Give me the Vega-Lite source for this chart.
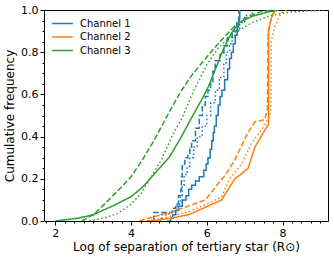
{
  "$schema": "https://vega.github.io/schema/vega-lite/v6.json",
  "width": 284,
  "height": 211,
  "autosize": {"type": "none"},
  "padding": {"left": 44, "top": 10, "right": 6, "bottom": 39},
  "config": {
    "font": "DejaVu Sans",
    "view": {"stroke": "#000000", "strokeWidth": 1},
    "axis": {
      "grid": false,
      "domain": false,
      "tickColor": "#000000",
      "labelColor": "#000000",
      "titleColor": "#000000",
      "labelFontSize": 11,
      "titleFontSize": 12,
      "titleFontWeight": "normal",
      "labelPadding": 2
    },
    "legend": {
      "labelFontSize": 10,
      "labelColor": "#000000"
    }
  },
  "data": {
    "values": [
      {"ch":"Channel 1","st":"solid","i":0,"x":4.95,"y":0},
      {"ch":"Channel 1","st":"solid","i":1,"x":5.05,"y":0.013},
      {"ch":"Channel 1","st":"solid","i":2,"x":5.1,"y":0.03},
      {"ch":"Channel 1","st":"solid","i":3,"x":5.18,"y":0.05},
      {"ch":"Channel 1","st":"solid","i":4,"x":5.25,"y":0.07},
      {"ch":"Channel 1","st":"solid","i":5,"x":5.35,"y":0.1},
      {"ch":"Channel 1","st":"solid","i":6,"x":5.45,"y":0.12},
      {"ch":"Channel 1","st":"solid","i":7,"x":5.52,"y":0.15},
      {"ch":"Channel 1","st":"solid","i":8,"x":5.6,"y":0.17},
      {"ch":"Channel 1","st":"solid","i":9,"x":5.7,"y":0.19},
      {"ch":"Channel 1","st":"solid","i":10,"x":5.8,"y":0.21},
      {"ch":"Channel 1","st":"solid","i":11,"x":5.92,"y":0.24},
      {"ch":"Channel 1","st":"solid","i":12,"x":5.98,"y":0.27},
      {"ch":"Channel 1","st":"solid","i":13,"x":6.03,"y":0.3},
      {"ch":"Channel 1","st":"solid","i":14,"x":6.09,"y":0.34},
      {"ch":"Channel 1","st":"solid","i":15,"x":6.13,"y":0.38},
      {"ch":"Channel 1","st":"solid","i":16,"x":6.17,"y":0.42},
      {"ch":"Channel 1","st":"solid","i":17,"x":6.2,"y":0.45},
      {"ch":"Channel 1","st":"solid","i":18,"x":6.25,"y":0.5},
      {"ch":"Channel 1","st":"solid","i":19,"x":6.3,"y":0.55},
      {"ch":"Channel 1","st":"solid","i":20,"x":6.35,"y":0.59},
      {"ch":"Channel 1","st":"solid","i":21,"x":6.4,"y":0.62},
      {"ch":"Channel 1","st":"solid","i":22,"x":6.47,"y":0.67},
      {"ch":"Channel 1","st":"solid","i":23,"x":6.55,"y":0.72},
      {"ch":"Channel 1","st":"solid","i":24,"x":6.6,"y":0.77},
      {"ch":"Channel 1","st":"solid","i":25,"x":6.65,"y":0.8},
      {"ch":"Channel 1","st":"solid","i":26,"x":6.7,"y":0.84},
      {"ch":"Channel 1","st":"solid","i":27,"x":6.75,"y":0.88},
      {"ch":"Channel 1","st":"solid","i":28,"x":6.8,"y":0.92},
      {"ch":"Channel 1","st":"solid","i":29,"x":6.84,"y":0.96},
      {"ch":"Channel 1","st":"solid","i":30,"x":6.87,"y":1.0},

      {"ch":"Channel 1","st":"dashed","i":0,"x":4.6,"y":0},
      {"ch":"Channel 1","st":"dashed","i":1,"x":4.6,"y":0.04},
      {"ch":"Channel 1","st":"dashed","i":2,"x":5.09,"y":0.06},
      {"ch":"Channel 1","st":"dashed","i":3,"x":5.18,"y":0.08},
      {"ch":"Channel 1","st":"dashed","i":4,"x":5.25,"y":0.12},
      {"ch":"Channel 1","st":"dashed","i":5,"x":5.31,"y":0.15},
      {"ch":"Channel 1","st":"dashed","i":6,"x":5.33,"y":0.21},
      {"ch":"Channel 1","st":"dashed","i":7,"x":5.35,"y":0.27},
      {"ch":"Channel 1","st":"dashed","i":8,"x":5.42,"y":0.3},
      {"ch":"Channel 1","st":"dashed","i":9,"x":5.5,"y":0.32},
      {"ch":"Channel 1","st":"dashed","i":10,"x":5.55,"y":0.35},
      {"ch":"Channel 1","st":"dashed","i":11,"x":5.6,"y":0.38},
      {"ch":"Channel 1","st":"dashed","i":12,"x":5.7,"y":0.44},
      {"ch":"Channel 1","st":"dashed","i":13,"x":5.8,"y":0.5},
      {"ch":"Channel 1","st":"dashed","i":14,"x":5.88,"y":0.55},
      {"ch":"Channel 1","st":"dashed","i":15,"x":5.96,"y":0.59},
      {"ch":"Channel 1","st":"dashed","i":16,"x":6.03,"y":0.62},
      {"ch":"Channel 1","st":"dashed","i":17,"x":6.1,"y":0.66},
      {"ch":"Channel 1","st":"dashed","i":18,"x":6.16,"y":0.71},
      {"ch":"Channel 1","st":"dashed","i":19,"x":6.22,"y":0.76},
      {"ch":"Channel 1","st":"dashed","i":20,"x":6.35,"y":0.79},
      {"ch":"Channel 1","st":"dashed","i":21,"x":6.45,"y":0.83},
      {"ch":"Channel 1","st":"dashed","i":22,"x":6.55,"y":0.87},
      {"ch":"Channel 1","st":"dashed","i":23,"x":6.67,"y":0.9},
      {"ch":"Channel 1","st":"dashed","i":24,"x":6.79,"y":0.94},
      {"ch":"Channel 1","st":"dashed","i":25,"x":6.85,"y":1.0},

      {"ch":"Channel 1","st":"dotted","i":0,"x":4.75,"y":0},
      {"ch":"Channel 1","st":"dotted","i":1,"x":4.8,"y":0.03},
      {"ch":"Channel 1","st":"dotted","i":2,"x":5.0,"y":0.04},
      {"ch":"Channel 1","st":"dotted","i":3,"x":5.15,"y":0.05},
      {"ch":"Channel 1","st":"dotted","i":4,"x":5.22,"y":0.08},
      {"ch":"Channel 1","st":"dotted","i":5,"x":5.3,"y":0.12},
      {"ch":"Channel 1","st":"dotted","i":6,"x":5.35,"y":0.17},
      {"ch":"Channel 1","st":"dotted","i":7,"x":5.4,"y":0.22},
      {"ch":"Channel 1","st":"dotted","i":8,"x":5.48,"y":0.26},
      {"ch":"Channel 1","st":"dotted","i":9,"x":5.55,"y":0.3},
      {"ch":"Channel 1","st":"dotted","i":10,"x":5.65,"y":0.35},
      {"ch":"Channel 1","st":"dotted","i":11,"x":5.75,"y":0.4},
      {"ch":"Channel 1","st":"dotted","i":12,"x":5.88,"y":0.45},
      {"ch":"Channel 1","st":"dotted","i":13,"x":6.0,"y":0.5},
      {"ch":"Channel 1","st":"dotted","i":14,"x":6.1,"y":0.56},
      {"ch":"Channel 1","st":"dotted","i":15,"x":6.22,"y":0.62},
      {"ch":"Channel 1","st":"dotted","i":16,"x":6.33,"y":0.68},
      {"ch":"Channel 1","st":"dotted","i":17,"x":6.45,"y":0.75},
      {"ch":"Channel 1","st":"dotted","i":18,"x":6.52,"y":0.8},
      {"ch":"Channel 1","st":"dotted","i":19,"x":6.6,"y":0.84},
      {"ch":"Channel 1","st":"dotted","i":20,"x":6.67,"y":0.87},
      {"ch":"Channel 1","st":"dotted","i":21,"x":6.74,"y":0.9},
      {"ch":"Channel 1","st":"dotted","i":22,"x":6.87,"y":0.94},
      {"ch":"Channel 1","st":"dotted","i":23,"x":7.0,"y":0.975},
      {"ch":"Channel 1","st":"dotted","i":24,"x":7.2,"y":1.0},

      {"ch":"Channel 2","st":"solid","i":0,"x":4.4,"y":0},
      {"ch":"Channel 2","st":"solid","i":1,"x":4.74,"y":0.005},
      {"ch":"Channel 2","st":"solid","i":2,"x":5.1,"y":0.015},
      {"ch":"Channel 2","st":"solid","i":3,"x":5.52,"y":0.03},
      {"ch":"Channel 2","st":"solid","i":4,"x":5.9,"y":0.06},
      {"ch":"Channel 2","st":"solid","i":5,"x":6.39,"y":0.1},
      {"ch":"Channel 2","st":"solid","i":6,"x":6.74,"y":0.2},
      {"ch":"Channel 2","st":"solid","i":7,"x":6.96,"y":0.23},
      {"ch":"Channel 2","st":"solid","i":8,"x":7.09,"y":0.25},
      {"ch":"Channel 2","st":"solid","i":9,"x":7.27,"y":0.35},
      {"ch":"Channel 2","st":"solid","i":10,"x":7.53,"y":0.43},
      {"ch":"Channel 2","st":"solid","i":11,"x":7.63,"y":0.46},
      {"ch":"Channel 2","st":"solid","i":12,"x":7.63,"y":0.9},
      {"ch":"Channel 2","st":"solid","i":13,"x":7.7,"y":0.96},
      {"ch":"Channel 2","st":"solid","i":14,"x":7.8,"y":1.0},

      {"ch":"Channel 2","st":"dashed","i":0,"x":4.22,"y":0},
      {"ch":"Channel 2","st":"dashed","i":1,"x":4.6,"y":0.02},
      {"ch":"Channel 2","st":"dashed","i":2,"x":5.09,"y":0.044},
      {"ch":"Channel 2","st":"dashed","i":3,"x":5.5,"y":0.07},
      {"ch":"Channel 2","st":"dashed","i":4,"x":5.96,"y":0.1},
      {"ch":"Channel 2","st":"dashed","i":5,"x":6.31,"y":0.18},
      {"ch":"Channel 2","st":"dashed","i":6,"x":6.5,"y":0.22},
      {"ch":"Channel 2","st":"dashed","i":7,"x":6.74,"y":0.29},
      {"ch":"Channel 2","st":"dashed","i":8,"x":6.9,"y":0.35},
      {"ch":"Channel 2","st":"dashed","i":9,"x":7.09,"y":0.42},
      {"ch":"Channel 2","st":"dashed","i":10,"x":7.27,"y":0.47},
      {"ch":"Channel 2","st":"dashed","i":11,"x":7.53,"y":0.48},
      {"ch":"Channel 2","st":"dashed","i":12,"x":7.6,"y":0.53},
      {"ch":"Channel 2","st":"dashed","i":13,"x":7.62,"y":0.9},
      {"ch":"Channel 2","st":"dashed","i":14,"x":7.7,"y":0.96},
      {"ch":"Channel 2","st":"dashed","i":15,"x":7.8,"y":1.0},

      {"ch":"Channel 2","st":"dotted","i":0,"x":4.5,"y":0},
      {"ch":"Channel 2","st":"dotted","i":1,"x":5.0,"y":0.02},
      {"ch":"Channel 2","st":"dotted","i":2,"x":5.52,"y":0.044},
      {"ch":"Channel 2","st":"dotted","i":3,"x":6.0,"y":0.08},
      {"ch":"Channel 2","st":"dotted","i":4,"x":6.39,"y":0.115},
      {"ch":"Channel 2","st":"dotted","i":5,"x":6.6,"y":0.2},
      {"ch":"Channel 2","st":"dotted","i":6,"x":6.92,"y":0.27},
      {"ch":"Channel 2","st":"dotted","i":7,"x":7.18,"y":0.37},
      {"ch":"Channel 2","st":"dotted","i":8,"x":7.44,"y":0.43},
      {"ch":"Channel 2","st":"dotted","i":9,"x":7.61,"y":0.48},
      {"ch":"Channel 2","st":"dotted","i":10,"x":7.69,"y":0.52},
      {"ch":"Channel 2","st":"dotted","i":11,"x":7.7,"y":0.85},
      {"ch":"Channel 2","st":"dotted","i":12,"x":7.79,"y":0.92},
      {"ch":"Channel 2","st":"dotted","i":13,"x":7.96,"y":0.985},
      {"ch":"Channel 2","st":"dotted","i":14,"x":8.1,"y":1.0},

      {"ch":"Channel 3","st":"solid","i":0,"x":2.0,"y":0},
      {"ch":"Channel 3","st":"solid","i":1,"x":2.6,"y":0.013},
      {"ch":"Channel 3","st":"solid","i":2,"x":3.0,"y":0.03},
      {"ch":"Channel 3","st":"solid","i":3,"x":3.5,"y":0.07},
      {"ch":"Channel 3","st":"solid","i":4,"x":4.0,"y":0.115},
      {"ch":"Channel 3","st":"solid","i":5,"x":4.3,"y":0.16},
      {"ch":"Channel 3","st":"solid","i":6,"x":4.6,"y":0.22},
      {"ch":"Channel 3","st":"solid","i":7,"x":5.0,"y":0.3},
      {"ch":"Channel 3","st":"solid","i":8,"x":5.3,"y":0.39},
      {"ch":"Channel 3","st":"solid","i":9,"x":5.6,"y":0.49},
      {"ch":"Channel 3","st":"solid","i":10,"x":5.85,"y":0.57},
      {"ch":"Channel 3","st":"solid","i":11,"x":6.05,"y":0.64},
      {"ch":"Channel 3","st":"solid","i":12,"x":6.25,"y":0.73},
      {"ch":"Channel 3","st":"solid","i":13,"x":6.45,"y":0.82},
      {"ch":"Channel 3","st":"solid","i":14,"x":6.65,"y":0.89},
      {"ch":"Channel 3","st":"solid","i":15,"x":6.85,"y":0.94},
      {"ch":"Channel 3","st":"solid","i":16,"x":7.2,"y":0.97},
      {"ch":"Channel 3","st":"solid","i":17,"x":7.6,"y":0.99},
      {"ch":"Channel 3","st":"solid","i":18,"x":7.9,"y":1.0},

      {"ch":"Channel 3","st":"dashed","i":0,"x":2.7,"y":0},
      {"ch":"Channel 3","st":"dashed","i":1,"x":3.0,"y":0.03},
      {"ch":"Channel 3","st":"dashed","i":2,"x":3.3,"y":0.08},
      {"ch":"Channel 3","st":"dashed","i":3,"x":3.74,"y":0.16},
      {"ch":"Channel 3","st":"dashed","i":4,"x":4.0,"y":0.21},
      {"ch":"Channel 3","st":"dashed","i":5,"x":4.3,"y":0.29},
      {"ch":"Channel 3","st":"dashed","i":6,"x":4.6,"y":0.38},
      {"ch":"Channel 3","st":"dashed","i":7,"x":5.05,"y":0.53},
      {"ch":"Channel 3","st":"dashed","i":8,"x":5.3,"y":0.61},
      {"ch":"Channel 3","st":"dashed","i":9,"x":5.6,"y":0.69},
      {"ch":"Channel 3","st":"dashed","i":10,"x":5.92,"y":0.76},
      {"ch":"Channel 3","st":"dashed","i":11,"x":6.2,"y":0.82},
      {"ch":"Channel 3","st":"dashed","i":12,"x":6.45,"y":0.87},
      {"ch":"Channel 3","st":"dashed","i":13,"x":6.66,"y":0.91},
      {"ch":"Channel 3","st":"dashed","i":14,"x":6.9,"y":0.95},
      {"ch":"Channel 3","st":"dashed","i":15,"x":7.1,"y":0.97},
      {"ch":"Channel 3","st":"dashed","i":16,"x":7.4,"y":0.99},
      {"ch":"Channel 3","st":"dashed","i":17,"x":7.7,"y":1.0},

      {"ch":"Channel 3","st":"dotted","i":0,"x":2.9,"y":0},
      {"ch":"Channel 3","st":"dotted","i":1,"x":3.3,"y":0.015},
      {"ch":"Channel 3","st":"dotted","i":2,"x":3.65,"y":0.036},
      {"ch":"Channel 3","st":"dotted","i":3,"x":4.0,"y":0.08},
      {"ch":"Channel 3","st":"dotted","i":4,"x":4.26,"y":0.13},
      {"ch":"Channel 3","st":"dotted","i":5,"x":4.5,"y":0.2},
      {"ch":"Channel 3","st":"dotted","i":6,"x":4.8,"y":0.29},
      {"ch":"Channel 3","st":"dotted","i":7,"x":5.13,"y":0.42},
      {"ch":"Channel 3","st":"dotted","i":8,"x":5.35,"y":0.49},
      {"ch":"Channel 3","st":"dotted","i":9,"x":5.66,"y":0.62},
      {"ch":"Channel 3","st":"dotted","i":10,"x":6.0,"y":0.74},
      {"ch":"Channel 3","st":"dotted","i":11,"x":6.3,"y":0.82},
      {"ch":"Channel 3","st":"dotted","i":12,"x":6.7,"y":0.89},
      {"ch":"Channel 3","st":"dotted","i":13,"x":7.2,"y":0.94},
      {"ch":"Channel 3","st":"dotted","i":14,"x":7.7,"y":0.975},
      {"ch":"Channel 3","st":"dotted","i":15,"x":8.2,"y":0.99},
      {"ch":"Channel 3","st":"dotted","i":16,"x":8.6,"y":0.995},
      {"ch":"Channel 3","st":"dotted","i":17,"x":9.1,"y":1.0}
    ]
  },
  "encoding": {
    "x": {
      "field": "x", "type": "quantitative",
      "scale": {"domain": [1.7, 9.2], "nice": false, "zero": false},
      "axis": {
        "title": "Log of separation of tertiary star (R⊙)",
        "values": [1.75,2,2.25,2.5,2.75,3,3.25,3.5,3.75,4,4.25,4.5,4.75,5,5.25,5.5,5.75,6,6.25,6.5,6.75,7,7.25,7.5,7.75,8,8.25,8.5,8.75,9],
        "labelExpr": "datum.value % 2 === 0 ? format(datum.value, 'd') : ''",
        "tickSize": {"condition": {"test": "datum.value % 2 === 0", "value": 4}, "value": 2},
        "titlePadding": 3
      }
    },
    "y": {
      "field": "y", "type": "quantitative",
      "scale": {"domain": [0, 1], "nice": false},
      "axis": {
        "title": "Cumulative frequency",
        "values": [0,0.05,0.1,0.15,0.2,0.25,0.3,0.35,0.4,0.45,0.5,0.55,0.6,0.65,0.7,0.75,0.8,0.85,0.9,0.95,1.0],
        "labelExpr": "abs(datum.value*5 - round(datum.value*5)) < 0.001 ? format(datum.value, '.1f') : ''",
        "tickSize": {"condition": {"test": "abs(datum.value*5 - round(datum.value*5)) < 0.001", "value": 4}, "value": 2},
        "titlePadding": 4
      }
    },
    "color": {
      "field": "ch", "type": "nominal",
      "scale": {"domain": ["Channel 1","Channel 2","Channel 3"], "range": ["#1f77b4","#ff7f0e","#2ca02c"]},
      "legend": {
        "title": null,
        "orient": "none",
        "legendX": 11,
        "legendY": 6,
        "padding": 0,
        "symbolType": "M-1.6,0H1.6",
        "symbolSize": 169,
        "symbolStrokeWidth": 1.5,
        "labelOffset": 10,
        "rowPadding": 0.5
      }
    },
    "strokeDash": {
      "field": "st", "type": "nominal",
      "scale": {"domain": ["solid","dashed","dotted"], "range": [[1,0],[5.5,2.4],[1.5,2.5]]},
      "legend": null
    },
    "order": {"field": "i", "type": "quantitative"}
  },
  "layer": [
    {
      "transform": [{"filter": "datum.ch === 'Channel 1'"}],
      "mark": {"type": "line", "strokeWidth": 1.5, "clip": true, "interpolate": "step-after"}
    },
    {
      "transform": [{"filter": "datum.ch !== 'Channel 1'"}],
      "mark": {"type": "line", "strokeWidth": 1.5, "clip": true}
    }
  ]
}
